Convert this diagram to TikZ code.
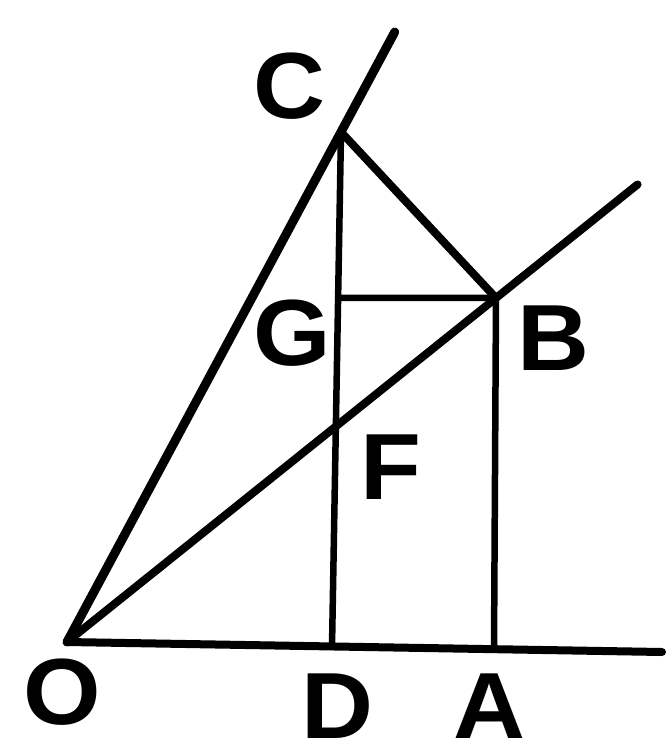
\documentclass[tikz,border=0pt]{standalone}
\usepackage{fontspec}
\setmainfont{Liberation Sans}
\usetikzlibrary{calc}
\begin{document}
\begin{tikzpicture}[x=1pt,y=-1pt,
  ln/.style={line width=8pt, line cap=round, line join=round},
  thin ln/.style={line width=6.5pt, line cap=round},
  lbl/.style={font=\bfseries\fontsize{94}{94}\selectfont, inner sep=0pt, xscale=1.06}]
\useasboundingbox (0,0) rectangle (668,751);
\coordinate (O) at (67,642);
\coordinate (E) at (662,652);
\coordinate (C) at (341,132);
\coordinate (D) at (332,647);
\coordinate (B) at (496,298);
\coordinate (A) at (494,648);
\coordinate (G) at ($(C)!0.322!(D)$);
\coordinate (Ct) at ($(O)!1.196!(C)$);
\coordinate (Bt) at ($(O)!1.33!(B)$);
% lines
\draw[ln] (O) -- (E);
\draw[ln, line width=9pt] (O) -- (Ct);
\draw[ln] (O) -- (Bt);
\draw[thin ln] (C) -- (D);
\draw[thin ln] (B) -- (A);
\draw[ln] (C) -- (B);
\draw[thin ln] (G) -- (B);
% labels
\node[lbl] (lC) at (289,86) {C};
\node[lbl] (lG) at (292,333) {G};
\node[lbl] (lB) at (553,338) {B};
\node[lbl] (lF) at (391,467) {F};
\node[lbl] (lO) at (62,692) {O};
\node[lbl] (lD) at (337,706) {D};
\node[lbl] (lA) at (489,706) {A};
\end{tikzpicture}
\end{document}
